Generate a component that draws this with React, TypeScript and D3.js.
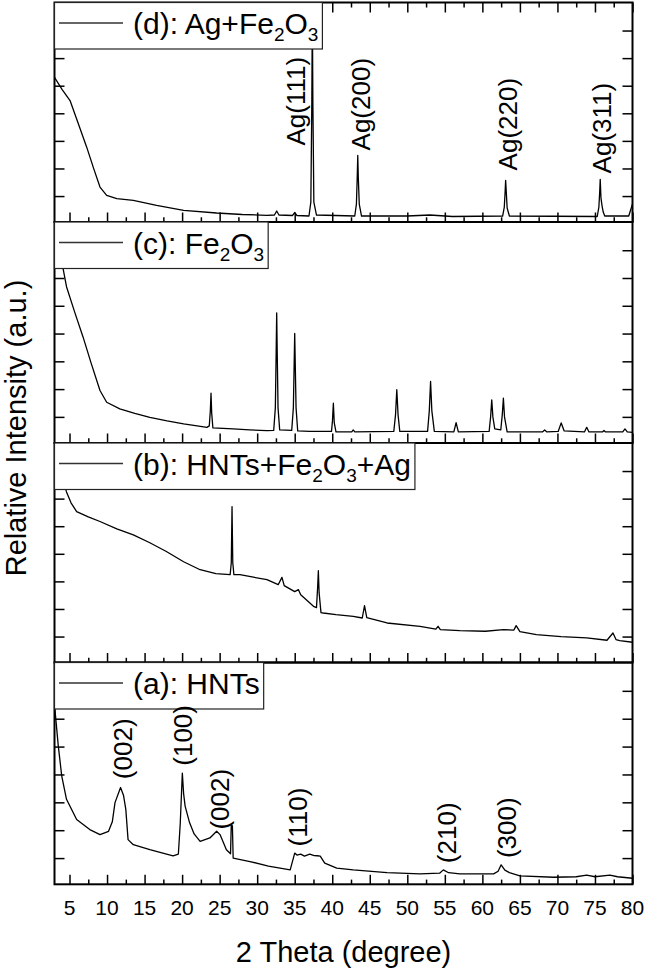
import React, { useEffect, useRef } from 'react';
import * as d3 from 'd3';

// ---------- data (2θ in degrees, intensity in a.u.) ----------
const X_DOMAIN: [number, number] = [3, 80];
const X_MAJOR = d3.range(5, 81, 5);
const X_MINOR = d3.range(7.5, 80, 5);
const Y_DOMAIN: [number, number] = [0, 220];
const Y_TICKS = d3.range(0, 7).map((k) => 26 + 27.65 * k);

// (d) Ag + Fe2O3
const seriesD: [number, number][] = [
  [3, 145], [4, 133], [5.07, 121.7], [6.2, 98], [7.29, 75], [8.2, 54], [9.06, 35], [9.95, 26.7],
  [11.3, 23.4], [13.5, 21.7], [16.6, 16.7], [20.2, 11.7], [24.6, 9], [28, 7.5], [31.3, 6.7],
  [32.3, 7], [32.6, 11], [32.9, 7], [34.7, 6.5], [35.0, 9.5], [35.3, 6.5], [36.9, 6],
  [37.15, 20], [37.28, 120], [37.35, 216], [37.42, 120], [37.55, 20], [37.9, 7],
  [43.0, 6], [43.22, 18], [43.33, 45], [43.4, 66.7], [43.47, 45], [43.6, 18], [43.9, 6],
  [50, 6], [53, 7], [56, 5.5], [62.7, 6], [62.92, 15], [63.03, 30], [63.1, 41.7], [63.2, 28], [63.3, 14], [63.6, 6],
  [75.3, 5.5], [75.52, 15], [75.63, 30], [75.7, 42.7], [75.8, 24], [75.95, 16], [76.1, 10], [76.3, 6],
  [79.5, 6], [80, 18],
];

// (c) Fe2O3
const seriesC: [number, number][] = [
  [3, 215], [3.6, 195], [4.6, 155.6], [5.7, 130], [6.8, 105.6], [7.9, 79], [9.06, 52.3], [9.95, 40.6],
  [11.7, 34], [13.7, 29.5], [15.7, 25.6], [18, 22], [20.2, 19], [22, 17], [23.3, 15.6],
  [23.62, 17], [23.76, 32], [23.85, 49.6], [23.94, 30], [24.1, 15], [26.8, 14], [29, 13], [31.3, 12.3],
  [32.2, 12.5], [32.42, 35], [32.53, 90], [32.6, 129.6], [32.67, 90], [32.78, 35], [33.0, 13],
  [34.6, 12.5], [34.82, 35], [34.93, 80], [35.0, 109], [35.07, 80], [35.18, 35], [35.4, 12],
  [37, 11.5], [39.9, 11.5], [40.03, 22], [40.15, 39.6], [40.27, 20], [40.5, 11],
  [42.6, 11], [42.8, 13], [43.0, 11], [48.2, 11.5], [48.43, 28], [48.6, 53], [48.77, 28], [49.0, 11.5],
  [52.7, 11.5], [52.93, 32], [53.1, 61.3], [53.27, 32], [53.6, 11.5], [56.2, 11], [56.5, 20.3], [56.8, 11],
  [60.9, 11.5], [61.1, 26], [61.25, 43], [61.4, 26], [61.65, 14], [62.45, 13], [62.65, 28], [62.8, 44.6],
  [62.95, 26], [63.3, 11], [68.0, 11], [68.3, 13], [68.6, 11], [70.1, 11.5], [70.5, 20], [70.9, 12],
  [73.6, 11], [73.9, 15.6], [74.2, 11], [76.0, 11], [76.2, 12.5], [76.4, 11], [78.7, 11], [79.0, 14],
  [79.3, 11], [80, 10.6],
];

// (b) HNTs + Fe2O3 + Ag
const seriesB: [number, number][] = [
  [3, 200], [4.0, 185], [4.6, 171], [5.2, 160], [5.95, 151.3], [7.5, 146], [9.06, 141.3], [11.3, 134],
  [13.5, 128], [15.7, 120], [17.9, 111.3], [20.2, 101], [22.4, 93], [24.5, 89], [26.4, 88],
  [26.55, 100], [26.65, 156.3], [26.75, 100], [26.9, 88], [27.7, 88], [29.5, 85.5], [31.3, 83],
  [32.8, 78], [33.3, 85.3], [33.6, 77], [35.0, 71], [35.5, 73], [35.8, 68], [37.5, 56.3], [37.9, 55],
  [38.05, 75], [38.15, 92], [38.25, 70], [38.5, 50], [38.8, 49.6], [40.5, 48], [42.8, 46.3],
  [44.0, 44.6], [44.3, 57], [44.6, 45], [47.3, 39.6], [51.7, 36.3], [53.8, 33.5], [54.1, 36.3],
  [54.4, 33], [57, 32], [60.4, 31.3], [62.8, 33], [64.2, 32.5], [64.5, 37], [65.0, 31], [67.2, 28],
  [70.5, 26], [73.9, 24.6], [76.6, 22.3], [77.4, 29.6], [77.8, 23], [78.3, 22], [80, 20.3],
];

// (a) HNTs
const seriesA: [number, number][] = [
  [3, 178], [3.5, 137.6], [3.96, 107.6], [4.6, 84.3], [5.95, 64.3], [7.7, 54.3], [9.06, 49.3],
  [10.2, 52.6], [10.7, 62], [11.06, 81], [11.8, 96], [12.2, 88], [12.5, 74.3], [12.8, 44.3],
  [13.5, 39.3], [15.7, 34.3], [18.8, 28.3], [19.5, 30], [19.75, 60], [20.03, 110.3], [20.2, 90],
  [20.4, 77.6], [21.0, 61], [21.6, 50], [22.4, 42.6], [23.7, 46], [24.6, 52.6], [25.05, 49.3],
  [25.9, 34.3], [26.45, 30.3], [26.55, 59.3], [26.7, 58], [26.8, 26], [29.05, 22.6], [31.5, 18],
  [34.4, 14.3], [35.0, 31], [35.3, 29], [35.8, 30], [36.3, 28], [37.0, 30], [37.6, 28.5], [38.0, 28.3],
  [38.4, 28], [39.0, 21], [40.6, 16], [42.8, 14.3], [47.3, 11.6], [51.7, 10.3], [54.3, 11],
  [54.8, 14.3], [55.5, 11.5], [57.0, 10.3], [61.5, 10.3], [62.1, 13], [62.5, 19.3], [63.0, 14],
  [63.6, 11.6], [65.0, 8.3], [69.5, 7], [72.5, 7.5], [73.9, 9], [75, 7.5], [77.0, 9], [78, 7.5], [80, 6],
];

type Part = { t: string; sub?: boolean };
const legendD: Part[] = [{ t: '(d): Ag+Fe' }, { t: '2', sub: true }, { t: 'O' }, { t: '3', sub: true }];
const legendC: Part[] = [{ t: '(c): Fe' }, { t: '2', sub: true }, { t: 'O' }, { t: '3', sub: true }];
const legendB: Part[] = [{ t: '(b): HNTs+Fe' }, { t: '2', sub: true }, { t: 'O' }, { t: '3', sub: true }, { t: '+Ag' }];
const legendA: Part[] = [{ t: '(a): HNTs' }];

// peak annotations: text, 2θ of label centre, intensity at label start
const labelsD = [
  { t: 'Ag(111)', x: 35.17, y: 76.7 },
  { t: 'Ag(200)', x: 43.83, y: 71.7 },
  { t: 'Ag(220)', x: 63.35, y: 51.7 },
  { t: 'Ag(311)', x: 75.83, y: 48.7 },
];
const labelsA = [
  { t: '(002)', x: 12.04, y: 104.3 },
  { t: '(100)', x: 20.12, y: 117.6 },
  { t: '(002)', x: 24.98, y: 54.3 },
  { t: '(110)', x: 35.41, y: 37.6 },
  { t: '(210)', x: 55.25, y: 21 },
  { t: '(300)', x: 63.18, y: 26 },
];

// ---------- layout ----------
const W = 646;
const H = 971;
const LEFT = 54.5;
const RIGHT = 632.5;
const PANELS = [
  { top: 2.5, bottom: 222, data: seriesD, legend: legendD, labels: labelsD },
  { top: 222, bottom: 443, data: seriesC, legend: legendC, labels: [] as typeof labelsD },
  { top: 443, bottom: 662.5, data: seriesB, legend: legendB, labels: [] as typeof labelsD },
  { top: 662.5, bottom: 884.3, data: seriesA, legend: legendA, labels: labelsA },
];
const FONT = "'Liberation Sans', Arial, Helvetica, sans-serif";
const LEG_FS = 30;
const SUB_FS = 19;

export default function App() {
  const ref = useRef<SVGSVGElement>(null);

  useEffect(() => {
    const svg = d3.select(ref.current);
    svg.selectAll('*').remove();
    const x = d3.scaleLinear().domain(X_DOMAIN).range([LEFT, RIGHT]);
    const defs = svg.append('defs');

    PANELS.forEach((p, i) => {
      const y = d3.scaleLinear().domain(Y_DOMAIN).range([p.bottom, p.top]);
      const g = svg.append('g');
      const clipId = `clip-${i}`;
      defs.append('clipPath').attr('id', clipId).append('rect')
        .attr('x', LEFT).attr('y', p.top).attr('width', RIGHT - LEFT).attr('height', p.bottom - p.top);

      const line = d3.line<[number, number]>().x((d) => x(d[0])).y((d) => y(d[1]));
      g.append('path').datum(p.data).attr('d', line as any)
        .attr('fill', 'none').attr('stroke', '#000').attr('stroke-width', 1.3)
        .attr('stroke-linejoin', 'round').attr('clip-path', `url(#${clipId})`);

      // frame
      g.append('rect').attr('x', LEFT).attr('y', p.top).attr('width', RIGHT - LEFT)
        .attr('height', p.bottom - p.top).attr('fill', 'none').attr('stroke', '#000').attr('stroke-width', 2);

      const styleAxis = (sel: any) => {
        sel.select('.domain').remove();
        sel.selectAll('line').attr('stroke', '#000').attr('stroke-width', 1.5);
        sel.selectAll('text').remove();
      };

      // bottom ticks (inward)
      g.append('g').attr('transform', `translate(0,${p.bottom})`)
        .call(d3.axisTop(x).tickValues(X_MAJOR).tickSize(9.5)).call(styleAxis);
      g.append('g').attr('transform', `translate(0,${p.bottom})`)
        .call(d3.axisTop(x).tickValues(X_MINOR).tickSize(4.7)).call(styleAxis);
      if (i === 0) {
        g.append('g').attr('transform', `translate(0,${p.top})`)
          .call(d3.axisBottom(x).tickValues(X_MAJOR).tickSize(10)).call(styleAxis);
        g.append('g').attr('transform', `translate(0,${p.top})`)
          .call(d3.axisBottom(x).tickValues(X_MINOR).tickSize(5)).call(styleAxis);
      }
      // y ticks
      g.append('g').attr('transform', `translate(${LEFT},0)`)
        .call(d3.axisRight(y).tickValues(Y_TICKS).tickSize(10)).call(styleAxis);
      g.append('g').attr('transform', `translate(${RIGHT},0)`)
        .call(d3.axisLeft(y).tickValues(Y_TICKS).tickSize(10)).call(styleAxis);

      // legend (on top of curve and ticks)
      const lg = g.append('g');
      const box = lg.append('rect').attr('x', LEFT).attr('y', p.top).attr('height', 46.5)
        .attr('fill', '#fff').attr('stroke', '#222').attr('stroke-width', 1.2);
      lg.append('line').attr('x1', 59).attr('x2', 123).attr('y1', p.top + 20.5).attr('y2', p.top + 20.5)
        .attr('stroke', '#333').attr('stroke-width', 1.3);
      const txt = lg.append('text').attr('x', 133).attr('y', p.top + 31.5)
        .attr('font-family', FONT).attr('font-size', LEG_FS).attr('fill', '#000');
      let shifted = false;
      p.legend.forEach((part) => {
        const ts = txt.append('tspan').text(part.t);
        if (part.sub) {
          ts.attr('font-size', SUB_FS).attr('dy', shifted ? 0 : 7);
          shifted = true;
        } else {
          ts.attr('font-size', LEG_FS).attr('dy', shifted ? -7 : 0);
          shifted = false;
        }
      });
      const len = (txt.node() as SVGTextElement).getComputedTextLength();
      box.attr('width', 133 + len + 4 - LEFT);

      // peak labels
      const capH = 0.716 * 26;
      p.labels.forEach((l) => {
        g.append('text')
          .attr('transform', `translate(${x(l.x) + capH / 2},${y(l.y)}) rotate(-90)`)
          .attr('font-family', FONT).attr('font-size', 26).attr('fill', '#000')
          .attr('text-anchor', 'start').text(l.t);
      });
    });

    // x tick labels
    const last = PANELS[PANELS.length - 1];
    svg.append('g').selectAll('text').data(X_MAJOR).join('text')
      .attr('x', (d) => x(d)).attr('y', last.bottom + 31)
      .attr('text-anchor', 'middle').attr('font-family', FONT).attr('font-size', 21)
      .attr('fill', '#000').text((d) => String(d));

    // axis titles
    svg.append('text').attr('x', (LEFT + RIGHT) / 2).attr('y', 961.5)
      .attr('text-anchor', 'middle').attr('font-family', FONT).attr('font-size', 29)
      .attr('fill', '#000').text('2 Theta (degree)');
    svg.append('text').attr('transform', `translate(26,428) rotate(-90)`)
      .attr('text-anchor', 'middle').attr('font-family', FONT).attr('font-size', 29)
      .attr('fill', '#000').text('Relative Intensity (a.u.)');
  }, []);

  return (
    <svg
      ref={ref}
      width={W}
      height={H}
      style={{ position: 'absolute', left: 0, top: 0, background: '#fff' }}
    />
  );
}
